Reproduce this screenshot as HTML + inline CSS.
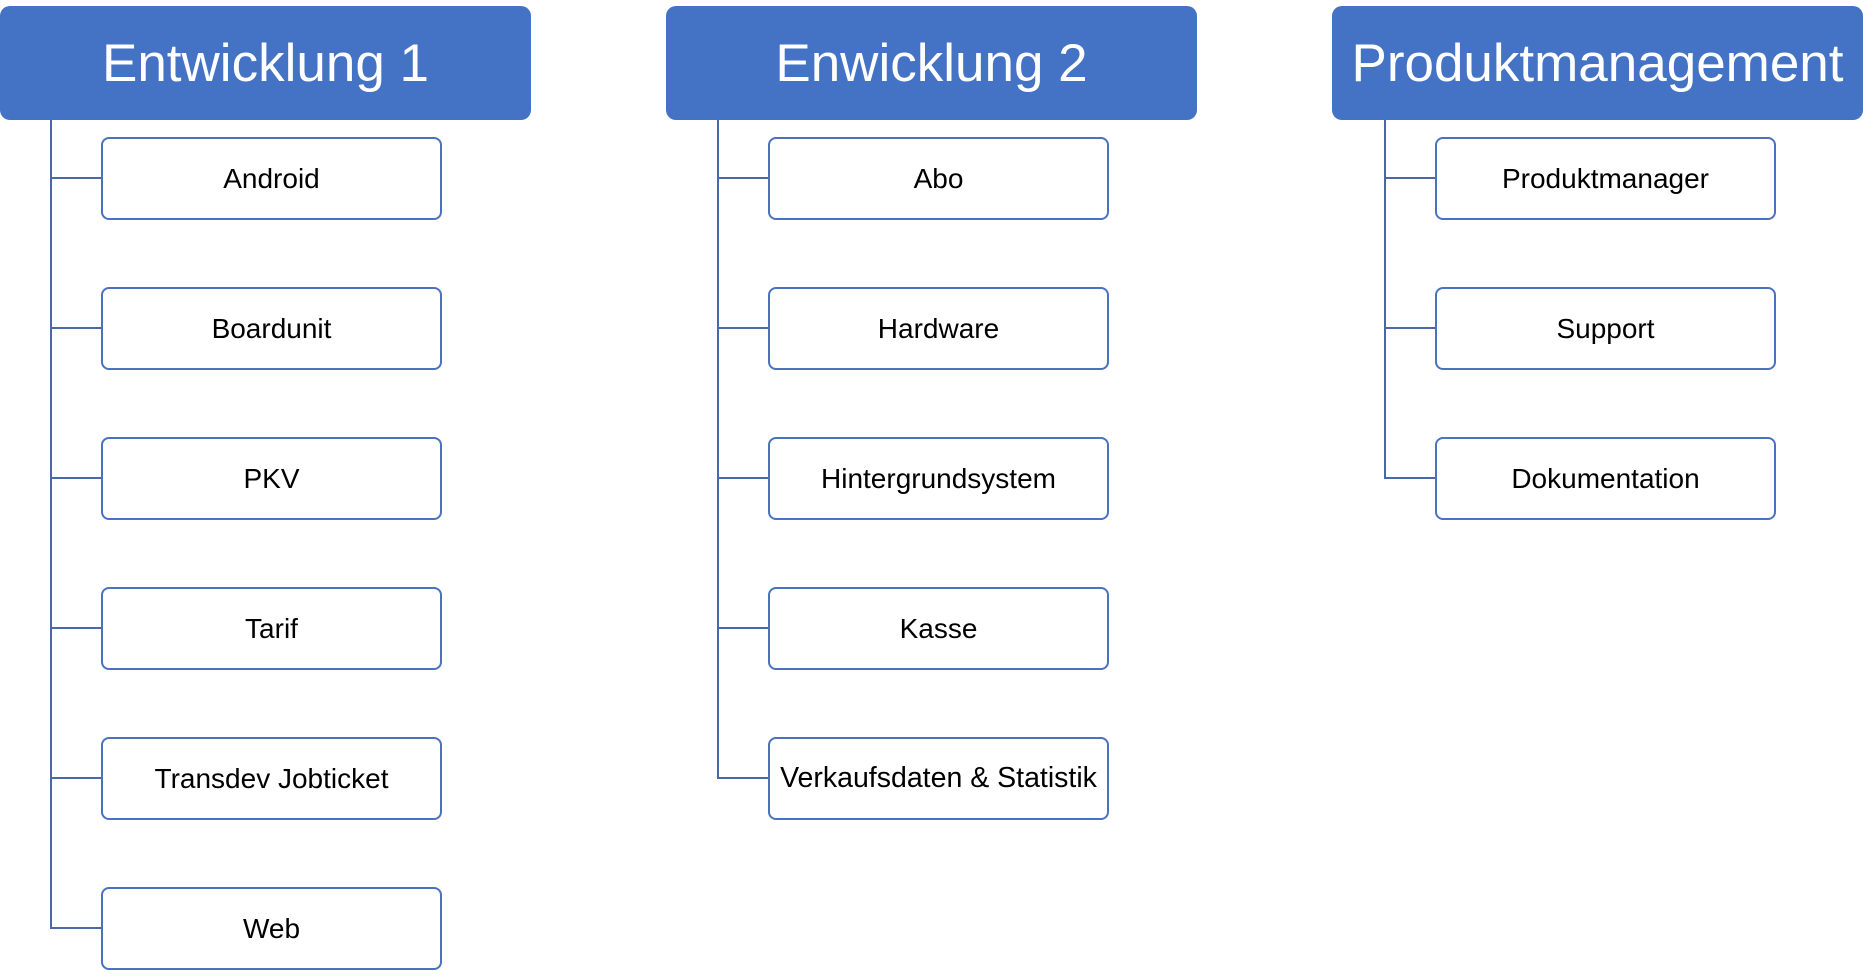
<!DOCTYPE html>
<html><head><meta charset="utf-8"><style>
body{margin:0;width:1867px;height:978px;background:#fff;position:relative;overflow:hidden;font-family:"Liberation Sans",Arial,sans-serif}
.h{position:absolute;top:6px;height:114px;width:531px;background:#4472C4;border-radius:10px;color:#fff;font-size:53px;display:flex;align-items:center;justify-content:center;white-space:nowrap}
.b{position:absolute;width:337px;height:79px;border:2px solid #4a72bf;border-radius:8px;background:#fff;display:flex;align-items:center;justify-content:center;font-size:28px;color:#000;white-space:nowrap}
.v{position:absolute;width:2px;background:#4a68a8;top:120px}
.c{position:absolute;height:2px;background:#4a68a8}
</style></head><body>
<div class="h" style="left:0">Entwicklung 1</div>
<div class="h" style="left:666px">Enwicklung 2</div>
<div class="h" style="left:1332px">Produktmanagement</div>

<div class="v" style="left:50px;height:808px"></div>
<div class="v" style="left:717px;height:658px"></div>
<div class="v" style="left:1384px;height:358px"></div>

<div class="c" style="left:50px;top:177px;width:52px"></div>
<div class="c" style="left:50px;top:327px;width:52px"></div>
<div class="c" style="left:50px;top:477px;width:52px"></div>
<div class="c" style="left:50px;top:627px;width:52px"></div>
<div class="c" style="left:50px;top:777px;width:52px"></div>
<div class="c" style="left:50px;top:927px;width:52px"></div>

<div class="c" style="left:717px;top:177px;width:52px"></div>
<div class="c" style="left:717px;top:327px;width:52px"></div>
<div class="c" style="left:717px;top:477px;width:52px"></div>
<div class="c" style="left:717px;top:627px;width:52px"></div>
<div class="c" style="left:717px;top:777px;width:52px"></div>

<div class="c" style="left:1384px;top:177px;width:52px"></div>
<div class="c" style="left:1384px;top:327px;width:52px"></div>
<div class="c" style="left:1384px;top:477px;width:52px"></div>

<div class="b" style="left:101px;top:137px">Android</div>
<div class="b" style="left:101px;top:287px">Boardunit</div>
<div class="b" style="left:101px;top:437px">PKV</div>
<div class="b" style="left:101px;top:587px">Tarif</div>
<div class="b" style="left:101px;top:737px">Transdev Jobticket</div>
<div class="b" style="left:101px;top:887px">Web</div>

<div class="b" style="left:768px;top:137px">Abo</div>
<div class="b" style="left:768px;top:287px">Hardware</div>
<div class="b" style="left:768px;top:437px">Hintergrundsystem</div>
<div class="b" style="left:768px;top:587px">Kasse</div>
<div class="b" style="left:768px;top:737px;font-size:28.5px">Verkaufsdaten &amp; Statistik</div>

<div class="b" style="left:1435px;top:137px">Produktmanager</div>
<div class="b" style="left:1435px;top:287px">Support</div>
<div class="b" style="left:1435px;top:437px">Dokumentation</div>
</body></html>
